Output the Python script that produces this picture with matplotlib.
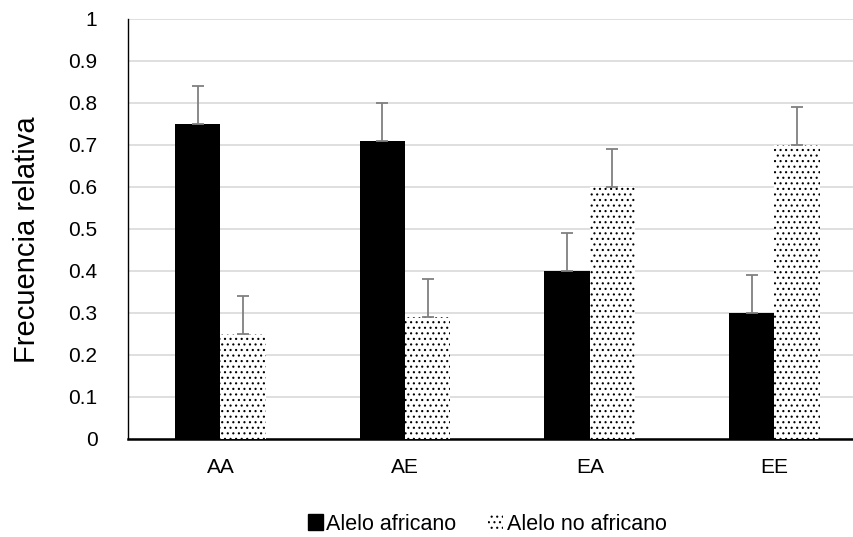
import matplotlib.pyplot as plt
import numpy as np
from matplotlib.patches import Patch

categories = ['AA', 'AE', 'EA', 'EE']
africano = [0.75, 0.71, 0.40, 0.30]
no_africano = [0.25, 0.29, 0.60, 0.70]
err_africano = [0.09, 0.09, 0.09, 0.09]
err_no_africano = [0.09, 0.09, 0.09, 0.09]
yticks = [0, 0.1, 0.2, 0.3, 0.4, 0.5, 0.6, 0.7, 0.8, 0.9, 1]
ytick_labels = ['0', '0.1', '0.2', '0.3', '0.4', '0.5', '0.6', '0.7', '0.8', '0.9', '1']

plt.rcParams['font.family'] = ['Liberation Sans']
plt.rcParams['hatch.linewidth'] = 0.8

W, H = 854, 537
fig = plt.figure(figsize=(W / 100, H / 100), dpi=100)
# axes runs past the right edge like the cropped original
left, bottom, top = 128, 439, 19
cat_w = 184.7
ax = fig.add_axes([left / W, (H - bottom) / H, (W - left) / W, (bottom - top) / H])

x = np.arange(len(categories))
bw = 0.245
ax.bar(x - bw / 2, africano, bw, color='black', zorder=3)
ax.bar(x + bw / 2, no_africano, bw, color='white', edgecolor='black', hatch='...',
       linewidth=0, zorder=3)
ax.errorbar(x - bw / 2, africano, yerr=[[0] * 4, err_africano], fmt='none',
            ecolor='#808080', elinewidth=1.3, capsize=4.5, capthick=1.3, zorder=4)
ax.errorbar(x + bw / 2, no_africano, yerr=[[0] * 4, err_no_africano], fmt='none',
            ecolor='#808080', elinewidth=1.3, capsize=4.5, capthick=1.3, zorder=4)

ax.set_xlim(-0.5, -0.5 + (W - left) / cat_w)
ax.set_ylim(0, 1)
ax.set_xticks(x)
ax.set_xticklabels(categories, fontsize=15)
ax.set_yticks(yticks)
ax.set_yticklabels(ytick_labels, fontsize=15)
ax.tick_params(axis='both', length=0)
ax.tick_params(axis='y', pad=22)
ax.tick_params(axis='x', pad=14)
ax.yaxis.grid(True, color='#d9d9d9', linewidth=1.2, zorder=0)
ax.set_axisbelow(True)
for s in ['top', 'right']:
    ax.spines[s].set_visible(False)
ax.spines['left'].set_linewidth(1.0)
ax.spines['bottom'].set_linewidth(1.8)
ax.set_ylabel('Frecuencia relativa', fontsize=21)
ax.yaxis.set_label_coords((41 - left) / (W - left), (bottom - 240) / (bottom - top))

handles = [Patch(facecolor='black', edgecolor='black', label='Alelo africano'),
           Patch(facecolor='white', edgecolor='black', hatch='...', linewidth=0,
                 label='Alelo no africano')]
fig.legend(handles=handles, loc='center', bbox_to_anchor=(487 / W, 1 - 524 / H),
           ncol=2, frameon=False, fontsize=15.5, handlelength=0.7, handleheight=0.7,
           handletextpad=0.15, columnspacing=1.5)

fig.savefig('out.png', dpi=100)
